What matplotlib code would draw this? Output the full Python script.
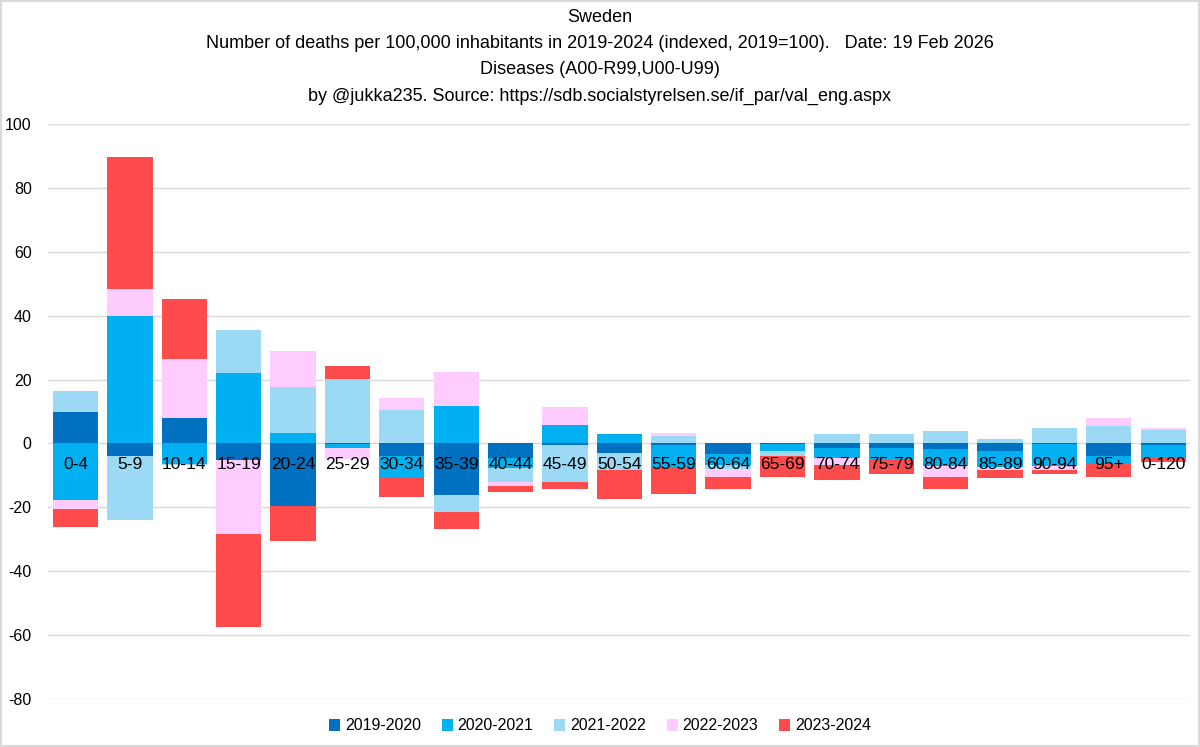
import numpy as np
import matplotlib.pyplot as plt
from matplotlib.patches import Rectangle

# faixas etárias
AGES = ['0-4', '5-9', '10-14', '15-19', '20-24', '25-29', '30-34', '35-39',
        '40-44', '45-49', '50-54', '55-59', '60-64', '65-69', '70-74', '75-79',
        '80-84', '85-89', '90-94', '95+', '0-120']

# variação anual (índice, 2019=100)
S_2019_2020 = [9.8, -3.8, 8.0, -5.2, -19.6, -0.3, -4.0, -16.3, -4.6, -0.6, -2.9,
               -0.5, -3.3, -0.3, -1.5, -1.5, -1.8, -2.5, -0.2, -3.8, -0.5]
S_2020_2021 = [-17.8, 40.0, -6.5, 22.0, 3.2, -1.2, -6.9, 11.7, -3.1, 5.8, 3.0,
               -6.9, -3.6, -2.2, -3.1, -3.3, -5.4, -4.8, -7.0, -2.7, -3.6]
S_2021_2022 = [6.5, -20.3, -0.4, 13.4, 14.4, 20.3, 10.6, -5.2, -4.4, -11.5, -5.3,
               2.3, -1.2, -1.3, 2.9, 2.8, 3.8, 1.3, 4.8, 5.6, 4.2]
S_2022_2023 = [-2.8, 8.3, 18.4, -23.3, 11.3, -3.3, 3.6, 10.7, -1.3, 5.6, -0.2,
               1.1, -2.4, -0.2, -2.0, 0.3, -3.4, -1.0, -1.0, 2.3, 0.6]
S_2023_2024 = [-5.7, 41.3, 18.8, -28.9, -10.8, 3.9, -6.0, -5.2, -1.9, -2.3, -9.1,
               -8.3, -3.7, -6.6, -4.8, -4.7, -3.6, -2.6, -1.5, -4.0, -1.7]

SERIES = ['2019-2020', '2020-2021', '2021-2022', '2022-2023', '2023-2024']
VALUES = [S_2019_2020, S_2020_2021, S_2021_2022, S_2022_2023, S_2023_2024]
COLORS = ['#0070C0', '#00B0F0', '#9BD9F5', '#FFCCFF', '#FF4B4B']

plt.rcParams['font.family'] = ['Liberation Sans', 'DejaVu Sans']
plt.rcParams['axes.unicode_minus'] = False

fig = plt.figure(figsize=(12, 7.47), dpi=100)
ax = fig.add_axes([0.0403, 0.0643, 0.9517, 0.7697])

x = np.arange(len(AGES))
pos_bottom = np.zeros(len(AGES))
neg_bottom = np.zeros(len(AGES))

# empilhamento estilo Excel: positivos para cima, negativos para baixo
for name, vals, col in zip(SERIES, VALUES, COLORS):
    v = np.array(vals)
    bottom = np.where(v >= 0, pos_bottom, neg_bottom)
    ax.bar(x, v, bottom=bottom, width=0.833, color=col, label=name, zorder=2)
    pos_bottom = pos_bottom + np.where(v >= 0, v, 0)
    neg_bottom = neg_bottom + np.where(v < 0, v, 0)

# rótulos das categorias no meio do gráfico
for xi, lab in zip(x, AGES):
    ax.text(xi, -6.6, lab, ha='center', va='center', fontsize=12.5, zorder=5)

ax.set_xlim(-0.5, len(AGES) - 0.5)
ax.set_ylim(-80, 100)
ax.set_yticks(np.arange(-80, 101, 20))
ax.set_xticks([])
ax.grid(axis='y', color='#D9D9D9', linewidth=1)
ax.set_axisbelow(True)
for s in ax.spines.values():
    s.set_visible(False)
ax.tick_params(axis='y', length=0, pad=12, labelsize=11.5)

titles = ['Sweden',
          'Number of deaths per 100,000 inhabitants in 2019-2024 (indexed, 2019=100).   Date: 19 Feb 2026',
          'Diseases (A00-R99,U00-U99)',
          'by @jukka235. Source: https://sdb.socialstyrelsen.se/if_par/val_eng.aspx']
for i, t in enumerate(titles):
    fig.text(0.5, 1 - (18 + 26 * i) / 747, t, ha='center', va='center', fontsize=13)

fig.legend(loc='center', bbox_to_anchor=(0.5, 1 - 726 / 747), ncol=5, frameon=False,
           fontsize=11.5, handlelength=0.7, handleheight=0.7, handletextpad=0.3,
           columnspacing=1.3)

fig.patches.append(Rectangle((0.001, 0.001), 0.998, 0.998, transform=fig.transFigure,
                             fill=False, edgecolor='#D9D9D9', linewidth=1.5))

fig.savefig('out.png', dpi=100)
